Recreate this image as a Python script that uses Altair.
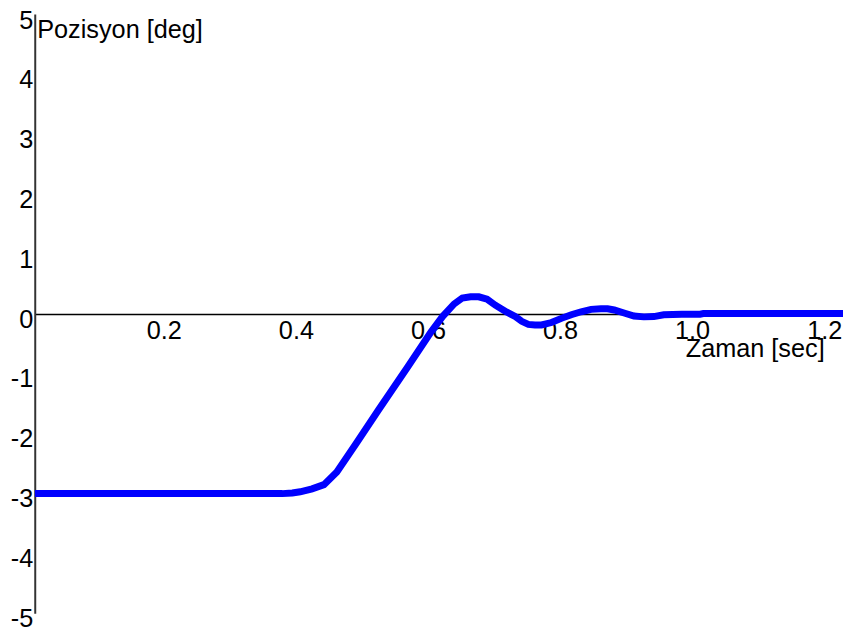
import altair as alt
import pandas as pd

t_sec = [0.0, 0.36, 0.375, 0.39, 0.402, 0.42, 0.438, 0.4575, 0.4875, 0.52, 0.565, 0.60, 0.6175,
         0.635, 0.6475, 0.66, 0.6725, 0.685, 0.6975, 0.7125, 0.7275, 0.7375, 0.7475,
         0.7575, 0.7675, 0.7825, 0.7975, 0.8125, 0.8275, 0.8425, 0.8575, 0.8675, 0.8775,
         0.8925, 0.9075, 0.9225, 0.9375, 0.9525, 0.98, 1.0075, 1.0125, 1.1, 1.224]
pos_deg = [-3.0, -3.0, -3.0, -2.99, -2.97, -2.92, -2.85, -2.64, -2.15, -1.61, -0.88, -0.30, -0.04,
           0.17, 0.27, 0.29, 0.29, 0.25, 0.15, 0.05, -0.04, -0.12, -0.17,
           -0.18, -0.18, -0.14, -0.07, -0.01, 0.04, 0.08, 0.09, 0.09, 0.07,
           0.02, -0.03, -0.045, -0.04, -0.01, 0.0, 0.0, 0.01, 0.01, 0.01]

x_ticks = [0.2, 0.4, 0.6, 0.8, 1.0, 1.2]
y_ticks = [-5, -4, -3, -2, -1, 0, 1, 2, 3, 4, 5]

df = pd.DataFrame({"t": t_sec, "v": pos_deg})

FONT = "Liberation Sans"
FS = 25.5

chart = alt.Chart(df).mark_line(color="#0000FF", strokeWidth=7, clip=True).encode(
    x=alt.X("t:Q", scale=alt.Scale(domain=[0, 1.224], nice=False, zero=False),
            axis=alt.Axis(values=x_ticks, format=".1f", offset=-302, ticks=False, tickSize=0,
                          grid=False, domainColor="black", domainWidth=1.5,
                          labelFont=FONT, labelFontSize=FS, labelColor="black",
                          labelPadding=5, labelOffset=-3, labelFlush=False, labelOverlap=False,
                          title="Zaman [sec]", titleFont=FONT, titleFontSize=FS,
                          titleFontWeight="normal", titleColor="black",
                          titleX=797, titleY=23, titleAlign="right", titleBaseline="top",
                          titleAngle=0)),
    y=alt.Y("v:Q", scale=alt.Scale(domain=[-5, 5.02], nice=False, zero=False),
            axis=alt.Axis(values=y_ticks, ticks=False, tickSize=0, grid=False,
                          labelExpr="datum.value < 0 ? '-' + abs(datum.value) : '' + datum.value",
                          domainColor="#333333", domainWidth=2,
                          labelFont=FONT, labelFontSize=FS, labelColor="black",
                          labelPadding=2, labelOffset=5, labelBaseline="middle",
                          labelFlush=False, labelOverlap=False,
                          title="Pozisyon [deg]", titleFont=FONT, titleFontSize=FS,
                          titleFontWeight="normal", titleColor="black",
                          titleAngle=0, titleX=2, titleY=4, titleAlign="left",
                          titleBaseline="top")),
).properties(
    width=816, height=605,
    padding={"left": 27, "top": 3, "right": 0, "bottom": 18},
    autosize="none",
    background="white",
).configure_view(stroke=None)

chart.save("out.html", embed_options={"renderer": "svg", "actions": False})
